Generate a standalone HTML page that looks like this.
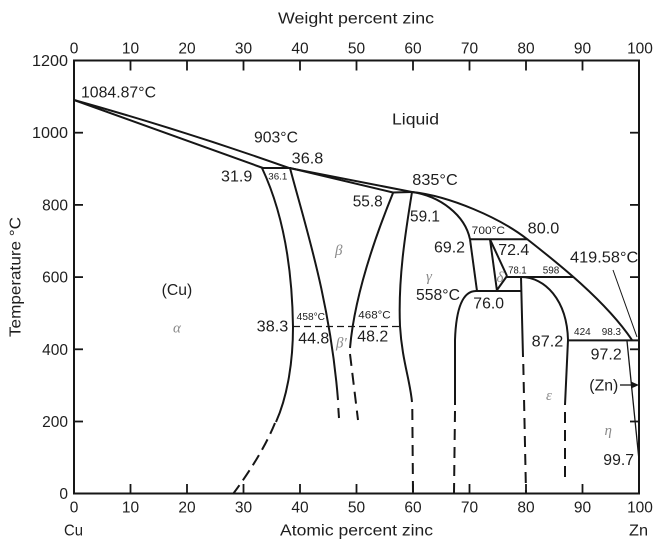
<!DOCTYPE html>
<html><head><meta charset="utf-8"><style>
html,body{margin:0;padding:0;background:#fff;}
svg{display:block;}
text{font-family:"Liberation Sans",sans-serif;fill:#1e1e1e;}
.t{font-size:15.5px;}
.s{font-size:10px;}
.m{font-size:11px;}
.g{font-family:"Liberation Serif",serif;font-style:italic;fill:#8a8a8a;font-size:15px;}
.ln{fill:none;stroke:#161616;stroke-width:2;stroke-linejoin:round;stroke-linecap:butt;}
.dl{fill:none;stroke:#161616;stroke-width:2;stroke-dasharray:11 7;}
</style></head><body>
<svg width="671" height="548" viewBox="0 0 671 548" xmlns="http://www.w3.org/2000/svg">
<rect x="0" y="0" width="671" height="548" fill="#fff"/>
<!-- axes -->
<rect x="74" y="60.5" width="565" height="433" fill="none" stroke="#161616" stroke-width="2"/>
<g stroke="#161616" stroke-width="1.8">
<line x1="130.5" y1="60.5" x2="130.5" y2="70.5"/><line x1="187" y1="60.5" x2="187" y2="70.5"/><line x1="243.5" y1="60.5" x2="243.5" y2="70.5"/><line x1="300" y1="60.5" x2="300" y2="70.5"/><line x1="356.5" y1="60.5" x2="356.5" y2="70.5"/><line x1="413" y1="60.5" x2="413" y2="70.5"/><line x1="469.5" y1="60.5" x2="469.5" y2="70.5"/><line x1="526" y1="60.5" x2="526" y2="70.5"/><line x1="582.5" y1="60.5" x2="582.5" y2="70.5"/>
<line x1="130.5" y1="493.5" x2="130.5" y2="484"/><line x1="187" y1="493.5" x2="187" y2="484"/><line x1="243.5" y1="493.5" x2="243.5" y2="484"/><line x1="300" y1="493.5" x2="300" y2="484"/><line x1="356.5" y1="493.5" x2="356.5" y2="484"/><line x1="413" y1="493.5" x2="413" y2="484"/><line x1="469.5" y1="493.5" x2="469.5" y2="484"/><line x1="526" y1="493.5" x2="526" y2="484"/><line x1="582.5" y1="493.5" x2="582.5" y2="484"/>
<line x1="74" y1="132.7" x2="83" y2="132.7"/><line x1="74" y1="204.9" x2="83" y2="204.9"/><line x1="74" y1="277.1" x2="83" y2="277.1"/><line x1="74" y1="349.3" x2="83" y2="349.3"/><line x1="74" y1="421.5" x2="83" y2="421.5"/>
<line x1="639" y1="132.7" x2="630" y2="132.7"/><line x1="639" y1="204.9" x2="630" y2="204.9"/><line x1="639" y1="277.1" x2="630" y2="277.1"/><line x1="639" y1="349.3" x2="630" y2="349.3"/><line x1="639" y1="421.5" x2="630" y2="421.5"/>
</g>
<!-- tick labels top -->
<g class="t" text-anchor="middle">
<text x="74" y="53.3">0</text><text x="130.5" y="53.3">10</text><text x="187" y="53.3">20</text><text x="243.5" y="53.3">30</text><text x="300" y="53.3">40</text><text x="356.5" y="53.3">50</text><text x="413" y="53.3">60</text><text x="469.5" y="53.3">70</text><text x="526" y="53.3">80</text><text x="582.5" y="53.3">90</text><text x="640" y="53.3">100</text>
<text x="74" y="512.7">0</text><text x="130.5" y="512.7">10</text><text x="187" y="512.7">20</text><text x="243.5" y="512.7">30</text><text x="300" y="512.7">40</text><text x="356.5" y="512.7">50</text><text x="413" y="512.7">60</text><text x="469.5" y="512.7">70</text><text x="526" y="512.7">80</text><text x="582.5" y="512.7">90</text><text x="640" y="512.7">100</text>
</g>
<g class="t" text-anchor="end">
<text x="68" y="66" textLength="36" lengthAdjust="spacingAndGlyphs">1200</text>
<text x="68" y="138.2" textLength="36" lengthAdjust="spacingAndGlyphs">1000</text>
<text x="68" y="210.4">800</text>
<text x="68" y="282.6">600</text>
<text x="68" y="354.8">400</text>
<text x="68" y="427">200</text>
<text x="68" y="499">0</text>
</g>
<!-- axis titles -->
<text class="t" x="278" y="23.3" textLength="156" lengthAdjust="spacingAndGlyphs">Weight percent zinc</text>
<text class="t" x="280" y="535.7" textLength="153" lengthAdjust="spacingAndGlyphs">Atomic percent zinc</text>
<text class="t" x="64" y="535.7" textLength="19" lengthAdjust="spacingAndGlyphs">Cu</text>
<text class="t" x="629" y="535.7" textLength="19" lengthAdjust="spacingAndGlyphs">Zn</text>
<text class="t" transform="translate(20.7,337) rotate(-90)" x="0" y="0" textLength="120" lengthAdjust="spacingAndGlyphs">Temperature °C</text>

<!-- phase boundaries -->
<path class="ln" d="M74,100 Q185,131 289,168"/>
<path class="ln" d="M74,100 L263,168"/>
<path class="ln" d="M262,168 L291,168"/>
<path class="ln" d="M289,168 L412,192"/>
<path class="ln" d="M290,168 L393,192.5"/>
<path class="ln" d="M393,192.5 L412,192"/>
<path class="ln" d="M412,192 C450,196 500,218 527,239 C555,261 605,300 632,340"/>
<path class="ln" d="M412,192 C440,196 465,215 470,239.3"/>
<path class="ln" d="M470,239.3 L527,239.3"/>
<path class="ln" d="M470,239.3 L477,291"/>
<path class="ln" d="M476,291 L521,291"/>
<path class="ln" d="M476,291 C462,291 456,310 455,340 L455,405"/>
<path class="dl" d="M455,411 L454,493"/>
<path class="ln" d="M490,239.3 L497,291"/>
<path class="ln" d="M490,239.3 L507,276"/>
<path class="ln" d="M507,276 L497,290"/>
<path class="ln" d="M507,277 L573,277"/>
<path class="ln" d="M521,277 L523,357"/>
<path class="dl" d="M523.3,364 L526,493"/>
<path class="ln" d="M521,277 C545,277 567,300 568,340 L565,405"/>
<path class="dl" d="M565,412 L565,478"/>
<path class="ln" d="M568,340.4 L639,340.4"/>
<path fill="none" stroke="#161616" stroke-width="1" d="M613,270 L637,337"/>
<path fill="none" stroke="#161616" stroke-width="1.3" d="M627,341 L639,460"/>
<path fill="none" stroke="#161616" stroke-width="1.3" d="M620,385 L632,385"/>
<polygon points="639,385 631,381.5 631,388.5" fill="#161616"/>
<!-- alpha -->
<path class="ln" d="M262,168 C277,200 292,250 293,327 C293,360 288,395 276,422"/>
<path class="ln" d="M275,423 Q262,455 233,494" stroke-dasharray="12 6"/>
<!-- beta left -->
<path class="ln" d="M290,168 C305,225 330,300 338,400"/>
<path class="ln" d="M338.3,408 L339,418"/>
<!-- beta right -->
<path class="ln" d="M393,193 C380,225 355,290 350,348"/>
<path class="ln" d="M350,354 L358,420" stroke-dasharray="12 7"/>
<!-- gamma left -->
<path class="ln" d="M412,192 C405,235 398,280 400,326 C402,360 410,380 412,402"/>
<path class="dl" d="M412.3,409 L413,493"/>
<!-- eutectoid dashed line -->
<path fill="none" stroke="#161616" stroke-width="1.3" stroke-dasharray="7 4" d="M293,326.5 L400,326.5"/>

<!-- labels -->
<g class="t">
<text x="81" y="97.3" textLength="75" lengthAdjust="spacingAndGlyphs">1084.87°C</text>
<text x="254" y="142.7" textLength="44" lengthAdjust="spacingAndGlyphs">903°C</text>
<text x="291.7" y="163.3" textLength="31.6" lengthAdjust="spacingAndGlyphs">36.8</text>
<text x="221" y="181.7" textLength="31.3" lengthAdjust="spacingAndGlyphs">31.9</text>
<text x="392" y="124.3" textLength="47" lengthAdjust="spacingAndGlyphs">Liquid</text>
<text x="412.3" y="185" textLength="45.4" lengthAdjust="spacingAndGlyphs">835°C</text>
<text x="352.7" y="206.7" textLength="30" lengthAdjust="spacingAndGlyphs">55.8</text>
<text x="410" y="221.7" textLength="30" lengthAdjust="spacingAndGlyphs">59.1</text>
<text x="434" y="252.3" textLength="31" lengthAdjust="spacingAndGlyphs">69.2</text>
<text x="527.7" y="233.3" textLength="31.6" lengthAdjust="spacingAndGlyphs">80.0</text>
<text x="498.3" y="255" textLength="31" lengthAdjust="spacingAndGlyphs">72.4</text>
<text x="570" y="262.7" textLength="68.3" lengthAdjust="spacingAndGlyphs">419.58°C</text>
<text x="416" y="300" textLength="44" lengthAdjust="spacingAndGlyphs">558°C</text>
<text x="473.3" y="308.3" textLength="30.7" lengthAdjust="spacingAndGlyphs">76.0</text>
<text x="531.7" y="346.7" textLength="31.6" lengthAdjust="spacingAndGlyphs">87.2</text>
<text x="590.7" y="359.3" textLength="31" lengthAdjust="spacingAndGlyphs">97.2</text>
<text x="589.3" y="390.7" textLength="29" lengthAdjust="spacingAndGlyphs">(Zn)</text>
<text x="603.3" y="465" textLength="30.7" lengthAdjust="spacingAndGlyphs">99.7</text>
<text x="161.7" y="295" textLength="30.6" lengthAdjust="spacingAndGlyphs">(Cu)</text>
<text x="256.7" y="331.7" textLength="31.6" lengthAdjust="spacingAndGlyphs">38.3</text>
<text x="298.3" y="343.3" textLength="31" lengthAdjust="spacingAndGlyphs">44.8</text>
<text x="357.3" y="341.7" textLength="31" lengthAdjust="spacingAndGlyphs">48.2</text>
</g>
<text class="s" x="268.3" y="179.3" textLength="19" lengthAdjust="spacingAndGlyphs" style="font-size:9.5px">36.1</text>
<text class="m" x="471.7" y="234" textLength="33.3" lengthAdjust="spacingAndGlyphs">700°C</text>
<text class="s" x="508.3" y="273.3" textLength="18.4" lengthAdjust="spacingAndGlyphs">78.1</text>
<text class="s" x="542.7" y="273.3" textLength="16.6" lengthAdjust="spacingAndGlyphs">598</text>
<text class="s" x="574" y="335" textLength="16.7" lengthAdjust="spacingAndGlyphs">424</text>
<text class="s" x="601.7" y="335" textLength="19.3" lengthAdjust="spacingAndGlyphs">98.3</text>
<text class="s" x="296.7" y="320" textLength="28.3" lengthAdjust="spacingAndGlyphs">458°C</text>
<text class="m" x="358.3" y="318.3" textLength="32.4" lengthAdjust="spacingAndGlyphs">468°C</text>
<!-- greek -->
<text class="g" x="173" y="332.7">α</text>
<text class="g" x="335" y="255">β</text>
<text class="g" x="336" y="347.3">β′</text>
<text class="g" x="426" y="281">γ</text>
<text class="g" x="496.5" y="282">δ</text>
<text class="g" x="546" y="400">ε</text>
<text class="g" x="604.5" y="435">η</text>
</svg>
</body></html>
